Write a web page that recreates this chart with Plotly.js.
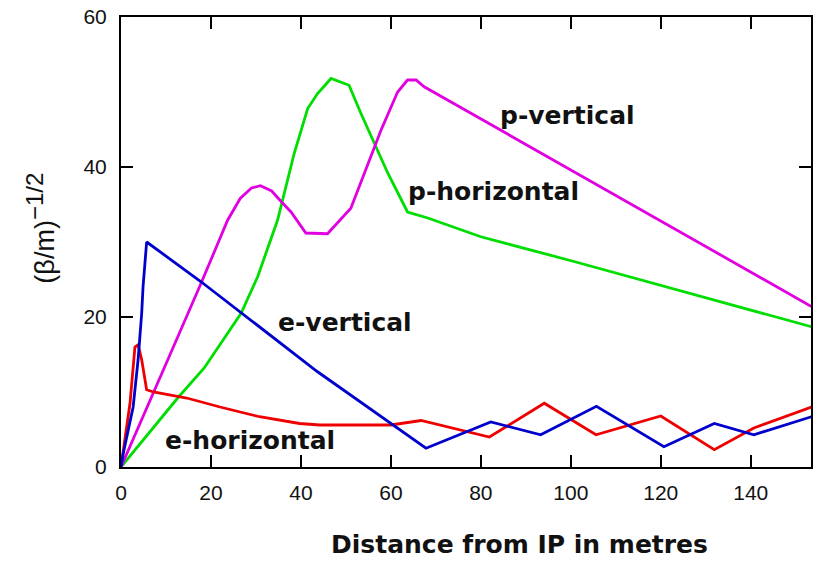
<!DOCTYPE html>
<html>
<head>
<meta charset="utf-8">
<script src="https://cdn.plot.ly/plotly-3.0.1.min.js"></script>
<style>html,body{margin:0;padding:0;background:#fff;}#chart{width:818px;height:562px;}</style>
</head>
<body>
<div id="chart"></div>
<script>
// e-vertical (blue)
const eVertX = [0, 0.5, 2.7, 3.8, 4.6, 4.9, 5.7, 17.8, 43.7, 67.8, 82.2, 93.3, 105.7, 120.7, 131.9, 140.7, 153.5];
const eVertY = [0, 1.8, 8.0, 14.3, 20.5, 24.0, 30.0, 24.7, 12.7, 2.5, 6.0, 4.3, 8.1, 2.7, 5.8, 4.3, 6.7];
// e-horizontal (red)
const eHorX = [0, 1, 2, 3.1, 3.8, 4.6, 5.7, 7.2, 14.6, 22, 30.8, 39.7, 44.2, 60, 66.7, 81.9, 94.1, 105.6, 120, 131.9, 140.7, 153.5];
const eHorY = [0, 4, 8.5, 16.0, 16.3, 14.3, 10.3, 10.0, 9.2, 8.0, 6.7, 5.8, 5.6, 5.6, 6.2, 4.0, 8.5, 4.3, 6.8, 2.3, 5.2, 8.0];
// p-horizontal (green)
const pHorX = [0, 12.6, 18.5, 26.7, 30.4, 34.8, 38.5, 41.5, 43.7, 46.7, 50.7, 53.3, 56.3, 59.3, 63.7, 68.2, 80, 100.7, 153.5];
const pHorY = [0, 9.2, 13.2, 20.5, 25.4, 32.9, 41.8, 47.8, 49.8, 51.8, 50.9, 47.2, 43.2, 39.2, 34.0, 33.2, 30.7, 27.4, 18.7];
// p-vertical (magenta)
const pVertX = [0, 7.4, 12, 17.8, 23.7, 26.5, 29, 31, 33.5, 35.6, 37.8, 41.1, 45.9, 51.1, 54.1, 57.8, 61.5, 63.7, 65.6, 67.4, 153.5];
const pVertY = [0, 10.3, 16.5, 24.5, 32.9, 35.8, 37.2, 37.5, 36.8, 35.4, 34.0, 31.2, 31.1, 34.5, 39.2, 44.9, 50.0, 51.6, 51.6, 50.7, 21.4];

const xTicks = [0, 20, 40, 60, 80, 100, 120, 140];
const yTicks = [0, 20, 40, 60];

const seriesNames = ['e-vertical', 'e-horizontal', 'p-horizontal', 'p-vertical'];
const seriesColors = ['#0000cc', '#ee0000', '#00dd00', '#e000e0'];
// label anchor positions (data units)
const labelX = [49.8, 28.7, 82.9, 99.3];
const labelY = [19.3, 3.6, 36.7, 46.9];

const xs = [eVertX, eHorX, pHorX, pVertX];
const ys = [eVertY, eHorY, pHorY, pVertY];
const order = [2, 3, 1, 0];

const traces = order.map(i => ({
  x: xs[i], y: ys[i], type: 'scatter', mode: 'lines', name: seriesNames[i],
  line: {color: seriesColors[i], width: 2.8}, hoverinfo: 'skip'
}));

const labelFont = {family: 'DejaVu Sans', size: 25, color: '#111'};
const annotations = seriesNames.map((n, i) => ({
  x: labelX[i], y: labelY[i], xref: 'x', yref: 'y', text: '<b>' + n + '</b>',
  showarrow: false, xanchor: 'center', yanchor: 'middle', font: labelFont
}));
annotations.push({
  xref: 'paper', yref: 'paper', x: 0.577, y: -0.173, xanchor: 'center', yanchor: 'middle',
  text: '<b>Distance from IP in metres</b>', showarrow: false,
  font: {family: 'DejaVu Sans', size: 25, color: '#111'}
});
annotations.push({
  xref: 'paper', yref: 'paper', x: -0.118, y: 0.531, xanchor: 'center', yanchor: 'middle',
  textangle: -90, showarrow: false,
  text: '(β/m)<sup><span style="font-size:24px">−1/2</span></sup>',
  font: {family: 'Liberation Sans', size: 27, color: '#111'}
});

const axisCommon = {
  showline: true, linecolor: '#000', linewidth: 2, mirror: 'ticks',
  ticks: 'inside', ticklen: 12, tickwidth: 2, tickcolor: '#000',
  showgrid: false, zeroline: false,
  tickfont: {family: 'Liberation Sans', size: 21, color: '#111'}
};

const layout = {
  width: 818, height: 562,
  margin: {l: 121, r: 7, t: 17, b: 95},
  paper_bgcolor: '#fff', plot_bgcolor: '#fff',
  showlegend: false,
  xaxis: Object.assign({}, axisCommon, {range: [0, 153.4], tickvals: xTicks, ticktext: xTicks.map(String), ticklabelstandoff: 6}),
  yaxis: Object.assign({}, axisCommon, {range: [0, 60], tickvals: yTicks, ticktext: yTicks.map(String), ticklabelstandoff: 8}),
  annotations: annotations
};

Plotly.newPlot('chart', traces, layout, {staticPlot: true, displayModeBar: false});
</script>
</body>
</html>
